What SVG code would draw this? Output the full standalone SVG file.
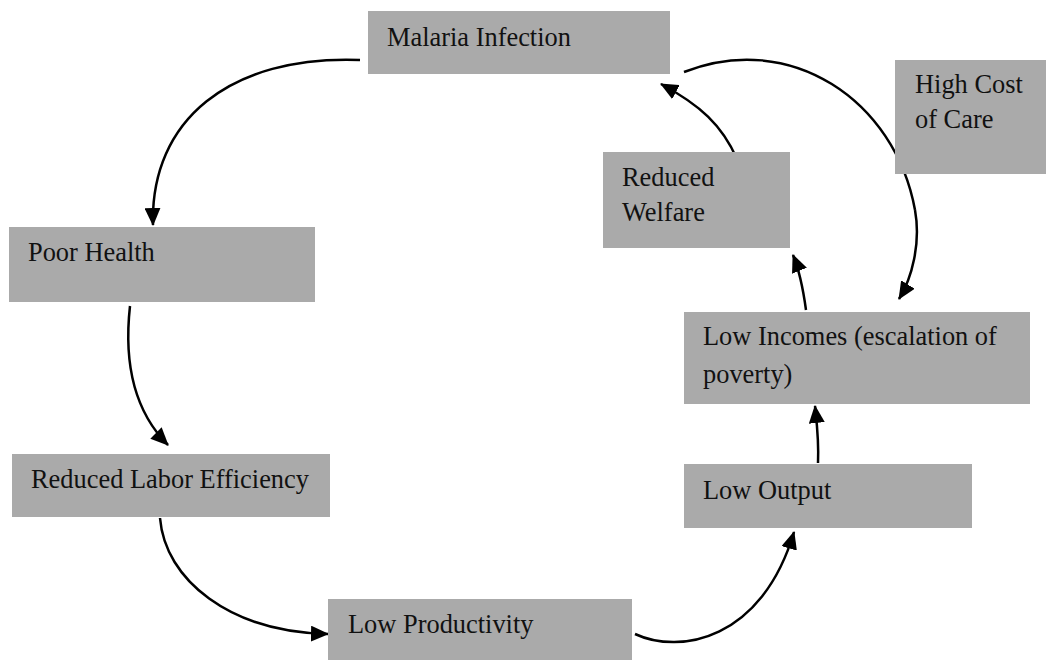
<svg xmlns="http://www.w3.org/2000/svg" width="1059" height="660" viewBox="0 0 1059 660">
<defs>
<style>
.box{fill:#aaaaaa;}
.lbl{font-family:"Liberation Serif","Times New Roman",serif;font-size:26.4px;fill:#111111;}
.arc{fill:none;stroke:#000000;stroke-width:2.5;}
.arr{marker-end:url(#ah);}
</style>
<marker id="ah" viewBox="0 0 18 16" refX="17" refY="8" markerWidth="18" markerHeight="16" markerUnits="userSpaceOnUse" orient="auto">
<path d="M0,0 L18,8 L0,16 Z" fill="#000000"/>
</marker>
</defs>
<rect width="1059" height="660" fill="#ffffff"/>
<g id="connectors">
<path class="arc arr" d="M360,60 C230,55 150,120 153,225"/>
<path class="arc arr" d="M130,306 C124,360 133,410 168,445"/>
<path class="arc arr" d="M160,518 C165,580 230,632 328,634"/>
<path class="arc arr" d="M635,634 C680,655 762,640 794,532"/>
<path class="arc arr" d="M818,463 C819,440 817,425 815,406"/>
<path class="arc arr" d="M806,310 C803,288 800,272 793,255"/>
<path class="arc arr" d="M737,159 C722,125 700,105 661,84"/>
<path class="arc" d="M684,72 C790,30 895,100 915,210"/>
<path class="arc arr" d="M915,210 C921,243 912,278 899,299"/>
</g>
<g id="node-malaria">
<rect class="box" x="368" y="11" width="302" height="63"/>
<text class="lbl" x="387" y="46">Malaria Infection</text>
</g>
<g id="node-highcost">
<rect class="box" x="895" y="60" width="151" height="114"/>
<text class="lbl" x="915" y="93">High Cost</text>
<text class="lbl" x="915" y="128">of Care</text>
</g>
<g id="node-welfare">
<rect class="box" x="603" y="152" width="187" height="96"/>
<text class="lbl" x="622" y="186">Reduced</text>
<text class="lbl" x="622" y="221">Welfare</text>
</g>
<g id="node-poorhealth">
<rect class="box" x="9" y="227" width="306" height="75"/>
<text class="lbl" x="28" y="261">Poor Health</text>
</g>
<g id="node-lowincomes">
<rect class="box" x="684" y="312" width="346" height="92"/>
<text class="lbl" x="703" y="345">Low Incomes (escalation of</text>
<text class="lbl" x="703" y="383">poverty)</text>
</g>
<g id="node-laborefficiency">
<rect class="box" x="12" y="454" width="318" height="63"/>
<text class="lbl" x="31" y="488">Reduced Labor Efficiency</text>
</g>
<g id="node-lowoutput">
<rect class="box" x="684" y="464" width="288" height="64"/>
<text class="lbl" x="703" y="499">Low Output</text>
</g>
<g id="node-lowproductivity">
<rect class="box" x="328" y="599" width="304" height="61"/>
<text class="lbl" x="348" y="633">Low Productivity</text>
</g>
</svg>
